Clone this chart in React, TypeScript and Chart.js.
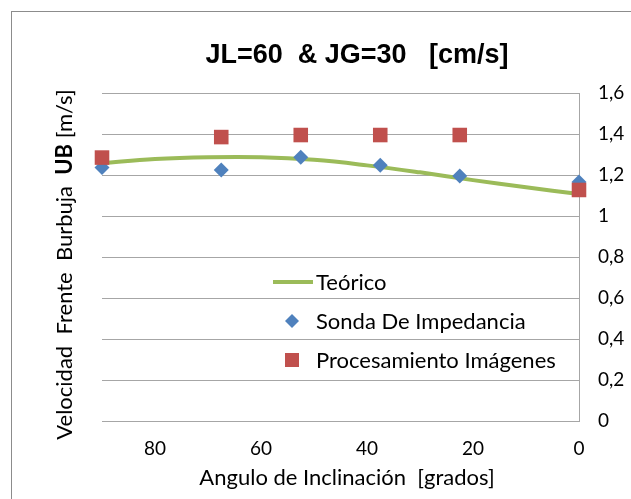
import React, { useEffect, useRef } from 'react';
import { Chart, registerables } from 'chart.js';

Chart.register(...registerables);

// ---- text ----
const chartTitle = 'JL=60  & JG=30   [cm/s]';
const xAxisTitle = 'Angulo de Inclinación  [grados]';
const yTitleNormal1 = 'Velocidad  Frente  Burbuja  ';
const yTitleBold = 'UB';
const yTitleNormal2 = ' [m/s]';
const legendLabels = ['Teórico', 'Sonda De Impedancia', 'Procesamiento Imágenes'];

// ---- data ----
const teoricoAngles = [90, 80, 70, 60, 50, 40, 30, 20, 10, 0];
const teoricoValues = [1.257, 1.278, 1.287, 1.287, 1.274, 1.247, 1.213, 1.175, 1.14, 1.107];
const measuredAngles = [90, 67.5, 52.5, 37.5, 22.5, 0];
const sondaValues = [1.236, 1.224, 1.286, 1.247, 1.195, 1.166];
const procesamientoValues = [1.285, 1.385, 1.395, 1.395, 1.395, 1.127];
const xTickValues = [80, 60, 40, 20, 0];
const yTickValues = [0, 0.2, 0.4, 0.6, 0.8, 1, 1.2, 1.4, 1.6];

// ---- styles ----
const GREEN = '#9BBB59';
const BLUE = '#4F81BD';
const RED = '#C0504D';
const GRID = '#A6A6A6';
const FONT = 'Lato, "Open Sans", sans-serif';

const decorPlugin = {
  id: 'decor',
  beforeDraw(chart: any) {
    const ctx = chart.ctx;
    ctx.save();
    ctx.fillStyle = '#ffffff';
    ctx.fillRect(0, 0, chart.width, chart.height);
    ctx.strokeStyle = '#8c8c8c';
    ctx.lineWidth = 1;
    ctx.strokeRect(11.5, 11.5, chart.width + 40, chart.height + 40);
    ctx.restore();
  },
  afterDraw(chart: any) {
    const ctx = chart.ctx;
    ctx.save();
    ctx.fillStyle = '#000000';

    // title
    ctx.font = 'bold 27px "Liberation Sans", Arial, sans-serif';
    ctx.textAlign = 'center';
    ctx.textBaseline = 'alphabetic';
    ctx.fillText(chartTitle, 357, 63);

    // x axis title
    ctx.font = `22px ${FONT}`;
    ctx.fillText(xAxisTitle, 347, 485);

    // y axis title (rotated, mixed weights)
    ctx.save();
    ctx.translate(72, 264.5);
    ctx.rotate(-Math.PI / 2);
    ctx.textAlign = 'left';
    const fN = `22px ${FONT}`;
    const fB = `bold 22px ${FONT}`;
    ctx.font = fN;
    const w1 = ctx.measureText(yTitleNormal1).width;
    const w3 = ctx.measureText(yTitleNormal2).width;
    ctx.font = fB;
    const w2 = ctx.measureText(yTitleBold).width;
    let x0 = -(w1 + w2 + w3) / 2;
    ctx.font = fN;
    ctx.fillText(yTitleNormal1, x0, 0);
    x0 += w1;
    ctx.font = fB;
    ctx.fillText(yTitleBold, x0, 0);
    x0 += w2;
    ctx.font = fN;
    ctx.fillText(yTitleNormal2, x0, 0);
    ctx.restore();

    // legend
    ctx.font = `22px ${FONT}`;
    ctx.textAlign = 'left';
    ctx.textBaseline = 'alphabetic';
    const textX = 316;
    const rows = [282, 321, 360];
    // line sample
    ctx.strokeStyle = GREEN;
    ctx.lineWidth = 4;
    ctx.beginPath();
    ctx.moveTo(273, rows[0]);
    ctx.lineTo(313, rows[0]);
    ctx.stroke();
    // diamond
    ctx.fillStyle = BLUE;
    ctx.beginPath();
    ctx.moveTo(292, rows[1] - 7);
    ctx.lineTo(299, rows[1]);
    ctx.lineTo(292, rows[1] + 7);
    ctx.lineTo(285, rows[1]);
    ctx.closePath();
    ctx.fill();
    // square
    ctx.fillStyle = RED;
    ctx.fillRect(285, rows[2] - 7, 14, 14);
    ctx.fillStyle = '#000000';
    legendLabels.forEach((t, i) => ctx.fillText(t, textX, rows[i] + 7.5));
    ctx.restore();
  },
};

export default function App() {
  const ref = useRef<HTMLCanvasElement | null>(null);
  useEffect(() => {
    if (!ref.current) return;
    const chart = new Chart(ref.current, {
      type: 'scatter',
      data: {
        datasets: [
          {
            label: legendLabels[0],
            data: teoricoAngles.map((x, i) => ({ x, y: teoricoValues[i] })),
            showLine: true,
            borderColor: GREEN,
            backgroundColor: GREEN,
            borderWidth: 4,
            pointRadius: 0,
            tension: 0.4,
            order: 2,
            clip: false,
          } as any,
          {
            label: legendLabels[1],
            data: measuredAngles.map((x, i) => ({ x, y: sondaValues[i] })),
            pointStyle: 'rectRot',
            pointRadius: 7.5,
            backgroundColor: BLUE,
            borderColor: BLUE,
            borderWidth: 0,
            order: 1,
            clip: false,
          } as any,
          {
            label: legendLabels[2],
            data: measuredAngles.map((x, i) => ({ x, y: procesamientoValues[i] })),
            pointStyle: 'rect',
            pointRadius: 10.3,
            backgroundColor: RED,
            borderColor: RED,
            borderWidth: 0,
            order: 0,
            clip: false,
          } as any,
        ],
      },
      options: {
        responsive: false,
        animation: false,
        devicePixelRatio: 1,
        events: [],
        layout: { padding: { left: 102, top: 93, right: 0, bottom: 0 } },
        plugins: {
          legend: { display: false },
          title: { display: false },
          tooltip: { enabled: false },
        },
        scales: {
          x: {
            type: 'linear',
            reverse: true,
            min: 0,
            max: 90,
            afterBuildTicks: (s: any) => {
              s.ticks = xTickValues.map((v) => ({ value: v }));
            },
            afterFit: (s: any) => {
              s.height = 78;
            },
            grid: { display: false, drawTicks: false },
            border: { display: true, color: GRID, width: 1 },
            ticks: {
              font: { family: FONT, size: 19 },
              color: '#000000',
              padding: 16,
              maxRotation: 0,
              autoSkip: false,
            },
          },
          y: {
            type: 'linear',
            position: 'right',
            min: 0,
            max: 1.6,
            afterBuildTicks: (s: any) => {
              s.ticks = yTickValues.map((v) => ({ value: v }));
            },
            afterFit: (s: any) => {
              s.width = 52;
            },
            grid: { color: GRID, drawTicks: false },
            border: { display: true, color: GRID, width: 1 },
            ticks: {
              font: { family: FONT, size: 19 },
              color: '#000000',
              padding: 19,
              callback: (v: any) => String(Math.round(Number(v) * 10) / 10).replace('.', ','),
            },
          },
        },
      } as any,
      plugins: [decorPlugin],
    });
    return () => chart.destroy();
  }, []);

  return (
    <div style={{ position: 'fixed', left: 0, top: 0, width: 631, height: 499, background: '#fff' }}>
      <canvas ref={ref} width={631} height={499} style={{ display: 'block', width: 631, height: 499 }} />
    </div>
  );
}
